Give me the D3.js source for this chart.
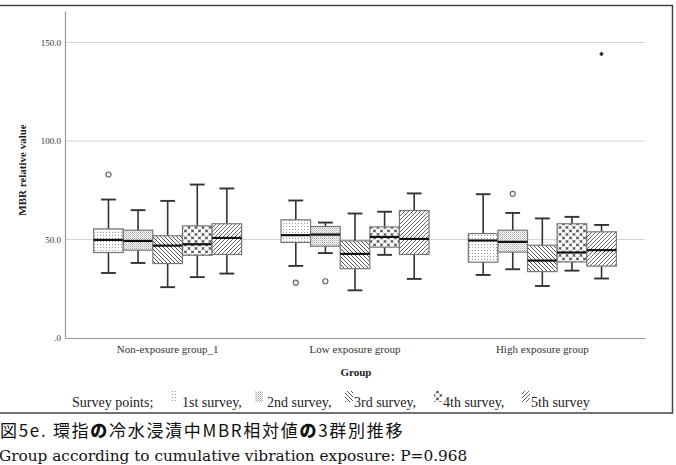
<!DOCTYPE html>
<html>
<head>
<meta charset="utf-8">
<script src="https://cdn.jsdelivr.net/npm/d3@7"></script>
<style>
  body { margin: 0; background: #fff; }
  svg { display: block; }
</style>
</head>
<body>
<svg id="svg" width="676" height="465"></svg>
<script>
// groups on the x axis and the five survey points inside each group
const groups = ["Non-exposure group_1", "Low exposure group", "High exposure group"];
const surveys = ["1st survey", "2nd survey", "3rd survey", "4th survey", "5th survey"];

// box stats per survey: [whisker low, q1, median, q3, whisker high]
const nonExposure = [
  [33.0, 43.4, 49.8, 55.4, 70.3],
  [38.1, 44.6, 49.3, 54.7, 64.9],
  [25.8, 37.8, 46.9, 51.9, 69.6],
  [30.9, 42.0, 47.6, 56.9, 77.9],
  [32.7, 42.4, 50.8, 58.0, 75.9]
];
const lowExposure = [
  [36.6, 48.5, 52.2, 60.0, 69.8],
  [43.1, 46.6, 52.5, 56.6, 58.6],
  [24.2, 35.2, 42.7, 49.3, 63.2],
  [42.2, 46.1, 51.3, 56.4, 64.1],
  [30.0, 42.4, 50.3, 64.7, 73.4]
];
const highExposure = [
  [32.0, 38.5, 49.5, 53.0, 73.0],
  [34.9, 43.6, 48.8, 54.7, 63.5],
  [26.4, 33.7, 39.3, 47.1, 60.7],
  [34.2, 38.6, 43.4, 58.0, 61.5],
  [30.2, 36.5, 44.6, 53.9, 57.4]
];
const boxStats = [nonExposure, lowExposure, highExposure];

// outliers: [group index, survey index, value, kind]
const outliers = [
  [0, 0, 83.0, "o"],
  [1, 0, 28.1, "o"],
  [1, 1, 28.8, "o"],
  [2, 1, 73.2, "o"],
  [2, 4, 144.2, "*"]
];

const yTicks = [0, 50, 100, 150];

const svg = d3.select("#svg");
const defs = svg.append("defs");

// fill patterns for the surveys
function hatch(id, dir, color) {
  const p = defs.append("pattern").attr("id", id).attr("patternUnits", "userSpaceOnUse")
    .attr("width", 4).attr("height", 4);
  p.append("rect").attr("width", 4).attr("height", 4).attr("fill", "#fff");
  if (dir > 0) {
    p.append("path").attr("d", "M-1,1 L1,-1 M0,4 L4,0 M3,5 L5,3");
  } else {
    p.append("path").attr("d", "M-1,3 L1,5 M0,0 L4,4 M3,-1 L5,1");
  }
  p.select("path").attr("stroke", color).attr("stroke-width", 1);
}
let p = defs.append("pattern").attr("id", "pat0").attr("patternUnits", "userSpaceOnUse")
  .attr("width", 3).attr("height", 3);
p.append("rect").attr("width", 3).attr("height", 3).attr("fill", "#fff");
p.append("rect").attr("x", 1).attr("y", 1).attr("width", 1).attr("height", 1).attr("fill", "#999");

p = defs.append("pattern").attr("id", "pat1").attr("patternUnits", "userSpaceOnUse")
  .attr("width", 2).attr("height", 2);
p.append("rect").attr("width", 2).attr("height", 2).attr("fill", "#fff");
p.append("rect").attr("width", 1).attr("height", 1).attr("fill", "#aaa");
p.append("rect").attr("x", 1).attr("y", 1).attr("width", 1).attr("height", 1).attr("fill", "#ccc");

hatch("pat2", -1, "#555");

p = defs.append("pattern").attr("id", "pat3").attr("patternUnits", "userSpaceOnUse")
  .attr("width", 7).attr("height", 7);
p.append("rect").attr("width", 7).attr("height", 7).attr("fill", "#555");
[[0, 0], [7, 0], [0, 7], [7, 7], [3.5, 3.5]].forEach(c => {
  p.append("circle").attr("cx", c[0]).attr("cy", c[1]).attr("r", 2.4).attr("fill", "#fff");
});

hatch("pat4", 1, "#666");

const margin = {left: 65, right: 645, top: 11, bottom: 338};

const x = d3.scaleBand().domain(groups).range([margin.left, margin.right])
  .paddingInner(0.21).paddingOuter(0.153);
const xs = d3.scaleBand().domain(d3.range(surveys.length)).range([0, x.bandwidth()]);
const y = d3.scaleLinear().domain([0, 166]).range([margin.bottom, margin.top]);

// outer frame
svg.append("path").attr("d", "M-1,5.5 H672.5 V413 H-1")
  .attr("fill", "none").attr("stroke", "#444").attr("stroke-width", 1.5);

// gridlines
svg.append("g").selectAll("line").data(yTicks.filter(d => d > 0)).join("line")
  .attr("x1", margin.left).attr("x2", margin.right)
  .attr("y1", d => y(d)).attr("y2", d => y(d))
  .attr("stroke", "#d4d4d4").attr("stroke-width", 1.2);

// axes
const yAxis = svg.append("g").attr("transform", `translate(${margin.left},0)`)
  .call(d3.axisLeft(y).tickValues(yTicks).tickSize(0).tickPadding(4)
    .tickFormat(d => d === 0 ? ".0" : d3.format(".1f")(d)));
const xAxis = svg.append("g").attr("transform", `translate(0,${margin.bottom})`)
  .call(d3.axisBottom(x).tickSize(0).tickPadding(7));
[yAxis, xAxis].forEach(a => {
  a.attr("font-family", "Liberation Serif");
  a.select(".domain").attr("stroke", "#999").attr("stroke-width", 1.2);
  a.selectAll("text").attr("fill", "#333");
});
yAxis.attr("font-size", 9);
xAxis.attr("font-size", 11);

svg.append("text").attr("transform", "translate(26,170) rotate(-90)")
  .attr("text-anchor", "middle").attr("font-family", "Liberation Serif")
  .attr("font-weight", "bold").attr("font-size", 11).attr("fill", "#222")
  .text("MBR relative value");
svg.append("text").attr("x", 356).attr("y", 376)
  .attr("text-anchor", "middle").attr("font-family", "Liberation Serif")
  .attr("font-weight", "bold").attr("font-size", 11).attr("fill", "#222")
  .text("Group");

// boxes
const boxes = [];
boxStats.forEach((g, gi) => g.forEach((s, si) => boxes.push({gi, si, s})));
const bx = d => x(groups[d.gi]) + xs(d.si);
const bw = xs.bandwidth();

const box = svg.append("g").selectAll("g").data(boxes).join("g");
box.append("line")
  .attr("x1", d => bx(d) + bw / 2).attr("x2", d => bx(d) + bw / 2)
  .attr("y1", d => y(d.s[0])).attr("y2", d => y(d.s[4]))
  .attr("stroke", "#333").attr("stroke-width", 1.6);
box.selectAll(".cap").data(d => [d.s[0], d.s[4]].map(v => ({d, v}))).join("line")
  .attr("x1", o => bx(o.d) + bw * 0.25).attr("x2", o => bx(o.d) + bw * 0.75)
  .attr("y1", o => y(o.v)).attr("y2", o => y(o.v))
  .attr("stroke", "#333").attr("stroke-width", 1.9);
box.append("rect")
  .attr("x", d => bx(d)).attr("width", bw)
  .attr("y", d => y(d.s[3])).attr("height", d => y(d.s[1]) - y(d.s[3]))
  .attr("fill", d => `url(#pat${d.si})`)
  .attr("stroke", "#777").attr("stroke-width", 1.2);
box.append("line")
  .attr("x1", d => bx(d)).attr("x2", d => bx(d) + bw)
  .attr("y1", d => y(d.s[2])).attr("y2", d => y(d.s[2]))
  .attr("stroke", "#111").attr("stroke-width", 2.2);

// outliers
const ol = svg.append("g");
ol.selectAll("circle").data(outliers.filter(o => o[3] === "o")).join("circle")
  .attr("cx", o => x(groups[o[0]]) + xs(o[1]) + bw / 2).attr("cy", o => y(o[2]))
  .attr("r", 2.5).attr("fill", "#fff").attr("stroke", "#666").attr("stroke-width", 1.2);
ol.selectAll("path").data(outliers.filter(o => o[3] === "*")).join("path")
  .attr("transform", o => `translate(${x(groups[o[0]]) + xs(o[1]) + bw / 2},${y(o[2])})`)
  .attr("d", d3.symbol(d3.symbolAsterisk, 12))
  .attr("stroke", "#222").attr("stroke-width", 1.2).attr("fill", "none");

// legend
const legend = svg.append("g").attr("font-family", "Liberation Serif")
  .attr("font-size", 14).attr("fill", "#222");
legend.append("text").attr("x", 72).attr("y", 407).text("Survey points;");
const legendX = [170, 255, 345, 434, 522];
surveys.forEach((s, i) => {
  legend.append("rect").attr("x", legendX[i]).attr("y", 391).attr("width", 8).attr("height", 11)
    .attr("fill", `url(#pat${i})`);
  legend.append("text").attr("x", legendX[i] + (i < 2 ? 12 : 9)).attr("y", 407)
    .text(s + (i < surveys.length - 1 ? "," : ""));
});

// caption
const cap = svg.append("text").attr("x", 0).attr("y", 437)
  .attr("font-family", "Noto Sans CJK JP").attr("font-size", 17)
  .attr("letter-spacing", 1.7).attr("fill", "#111");
["図5e. 環指", "の", "冷水浸漬中MBR相対値", "の", "3群別推移"].forEach(t => {
  cap.append("tspan").attr("font-weight", t === "の" ? 900 : 400).text(t);
});
svg.append("text").attr("x", -1).attr("y", 461)
  .attr("font-family", "DejaVu Serif").attr("font-size", 15.3).attr("fill", "#111")
  .text("Group according to cumulative vibration exposure: P=0.968");
</script>
</body>
</html>
